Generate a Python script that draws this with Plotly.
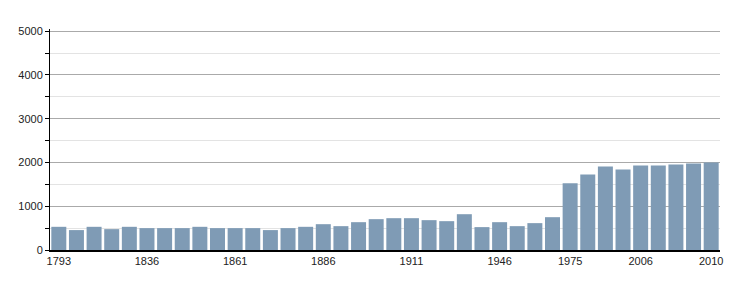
import plotly.graph_objects as go

years = [1793, 1800, 1806, 1821, 1831, 1836, 1841, 1846, 1851, 1856, 1861, 1866,
         1872, 1876, 1881, 1886, 1891, 1896, 1901, 1906, 1911, 1921, 1926, 1931,
         1936, 1946, 1954, 1962, 1968, 1975, 1982, 1990, 1999, 2006, 2007, 2008,
         2009, 2010]
population = [530, 455, 530, 477, 530, 500, 500, 500, 530, 500, 500, 500,
              455, 500, 530, 590, 545, 636, 705, 727, 727, 682, 659, 818,
              523, 636, 545, 614, 750, 1523, 1727, 1909, 1841, 1932, 1932, 1955,
              1977, 2000]
labeled_years = [1793, 1836, 1861, 1886, 1911, 1946, 1975, 2006, 2010]

idx = list(range(len(years)))
tickvals = [years.index(y) for y in labeled_years]
ticktext = [str(y) for y in labeled_years]

fig = go.Figure(go.Bar(
    x=idx, y=population,
    marker=dict(color="rgb(127,155,181)", line=dict(width=0)),
    hovertext=[str(y) for y in years],
))

fig.update_layout(
    width=750, height=300,
    margin=dict(l=50, r=30, t=29, b=50),
    plot_bgcolor="white", paper_bgcolor="white",
    bargap=0.15,
    showlegend=False,
    font=dict(family="Liberation Sans, Arial, sans-serif", size=11, color="#222"),
)
fig.update_xaxes(
    range=[-0.5, len(years) - 0.5],
    tickmode="array", tickvals=tickvals, ticktext=ticktext,
    showline=True, linecolor="black", linewidth=1.5,
    showgrid=False, zeroline=False, ticks="", ticklen=0,
)
fig.update_yaxes(
    range=[0, 5050], tickmode="linear", tick0=0, dtick=1000,
    showline=True, linecolor="black", linewidth=1,
    showgrid=True, gridcolor="#aaaaaa", gridwidth=1,
    ticks="outside", ticklen=4, tickcolor="black",
    zeroline=False,
    minor=dict(dtick=500, showgrid=True, gridcolor="#e3e3e3", ticks="outside",
               ticklen=4, tickcolor="black"),
)

fig.write_html("out.html")
